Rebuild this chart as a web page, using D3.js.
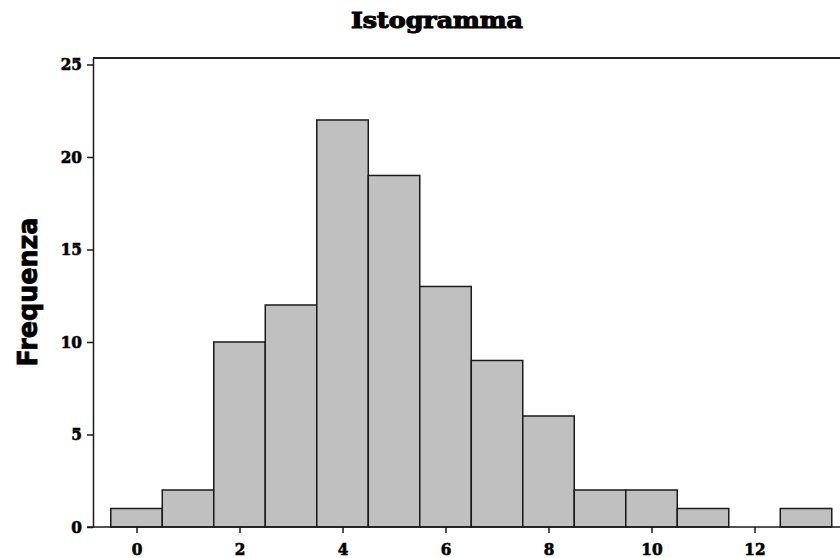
<!DOCTYPE html>
<html><head><meta charset="utf-8">
<script src="https://cdn.jsdelivr.net/npm/d3@7"></script>
<style>body{margin:0;background:#fff}svg{display:block}</style>
</head><body>
<script>
const title = "Istogramma";
const yLabel = "Frequenza";
const binCenters = [0,1,2,3,4,5,6,7,8,9,10,11,12,13];
const frequencies = [1,2,10,12,22,19,13,9,6,2,2,1,0,1];
const xTicks = [0,2,4,6,8,10,12];
const yTicks = [0,5,10,15,20,25];

(function(){
const W = 840, H = 558;
const svg = d3.select("body").append("svg").attr("width", W).attr("height", H);
const pL = 93, pR = 840, pT = 58, pB = 527;
const x = d3.scaleLinear().domain([-0.845, 13.66]).range([pL, pR]);
const y = d3.scaleLinear().domain([0, 25.35]).range([pB, pT]);
const serif = "'DejaVu Serif Condensed', 'DejaVu Serif', serif";

// bars
svg.append("g").selectAll("rect")
  .data(binCenters.map((c, i) => ({c, v: frequencies[i]})).filter(d => d.v > 0))
  .join("rect")
  .attr("x", d => x(d.c - 0.5))
  .attr("y", d => y(d.v))
  .attr("width", d => x(d.c + 0.5) - x(d.c - 0.5))
  .attr("height", d => y(0) - y(d.v))
  .attr("fill", "#c0c0c0")
  .attr("stroke", "#1a1a1a")
  .attr("stroke-width", 1.5);

// frame top
svg.append("line").attr("x1", pL).attr("x2", pR).attr("y1", pT).attr("y2", pT)
  .attr("stroke", "#222").attr("stroke-width", 2);

// axes
const xAxis = svg.append("g").attr("transform", `translate(0,${pB})`)
  .call(d3.axisBottom(x).tickValues(xTicks).tickSize(6).tickSizeOuter(0).tickPadding(7));
const yAxis = svg.append("g").attr("transform", `translate(${pL},0)`)
  .call(d3.axisLeft(y).tickValues(yTicks).tickSize(6).tickSizeOuter(0).tickPadding(5));
[xAxis, yAxis].forEach(a => {
  a.select(".domain").attr("stroke", "#1a1a1a").attr("stroke-width", 1.5);
  a.selectAll(".tick line").attr("stroke", "#1a1a1a").attr("stroke-width", 1.5);
  a.selectAll("text").attr("font-family", serif).attr("font-weight", "bold")
    .attr("font-size", 17).attr("fill", "#000")
    .attr("stroke", "#000").attr("stroke-width", 0.6);
});
xAxis.select(".domain").attr("d", `M${pL-6},0H${pR}`);
xAxis.selectAll("text").attr("dy", "0.9em");

// title
svg.append("text").attr("x", 437).attr("y", 28).attr("text-anchor", "middle")
  .attr("font-family", serif).attr("font-weight", "900").attr("font-size", 22)
  .attr("stroke", "#000").attr("stroke-width", 1)
  .attr("textLength", 172).attr("lengthAdjust", "spacingAndGlyphs")
  .text(title);

// y label
svg.append("text").attr("transform", "translate(37,292) rotate(-90)")
  .attr("text-anchor", "middle")
  .attr("font-family", "'DejaVu Sans', sans-serif").attr("font-weight", "bold").attr("font-size", 26)
  .attr("stroke", "#000").attr("stroke-width", 0.8)
  .attr("textLength", 149).attr("lengthAdjust", "spacingAndGlyphs")
  .text(yLabel);
})();
</script>
</body></html>
